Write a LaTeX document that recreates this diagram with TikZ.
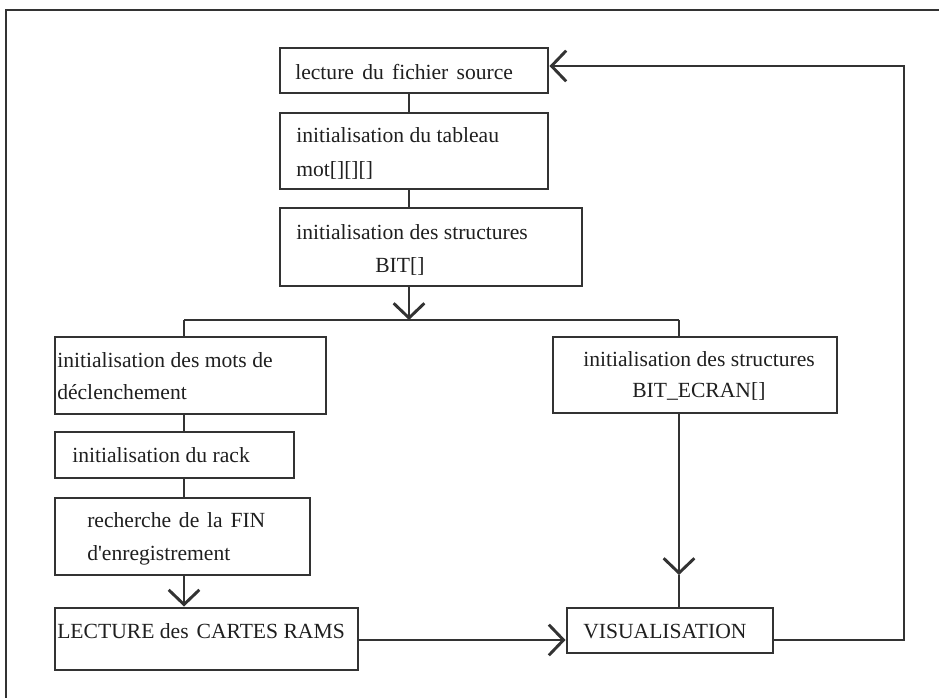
\documentclass[tikz,border=0pt]{standalone}
\usepackage{fontspec}
\setmainfont{Liberation Serif}
\usetikzlibrary{arrows.meta,fit,calc}
\definecolor{ink}{gray}{0.2}
\definecolor{textink}{gray}{0.12}
\begin{document}
\begin{tikzpicture}[x=0.75pt,y=-0.75pt,
  wire/.style={draw=ink,line width=2.2pt},
  box/.style={draw=ink,line width=2.2pt,rectangle,inner sep=0pt},
  lbl/.style={anchor=base west,inner sep=0pt,text=textink,font=\fontsize{16.2}{19}\selectfont},
  arr/.style={wire,-{Straight Barb[length=11pt,width=23pt,line width=2.2pt]}},
  line join=miter]
\useasboundingbox (0,0) rectangle (939,698);

% outer frame (top and left edges)
\draw[wire] (939,10) -- (6,10) -- (6,698);

% boxes
\node[box,fit={(280,48) (548,93)}]   (b1) {};
\node[box,fit={(280,113) (548,189)}] (b2) {};
\node[box,fit={(280,208) (582,286)}] (b3) {};
\node[box,fit={(55,337) (326,414)}]  (l1) {};
\node[box,fit={(55,432) (294,478)}]  (l2) {};
\node[box,fit={(55,498) (310,575)}]  (l3) {};
\node[box,fit={(55,608) (358,670)}]  (l4) {};
\node[box,fit={(553,337) (837,413)}] (r1) {};
\node[box,fit={(567,608) (773,653)}] (vis) {};

% texts
\node[lbl] (t1)  at (295,80)  {\spaceskip=0.38em lecture du fichier source};
\node[lbl] (t2a) at (296,143) {initialisation du tableau};
\node[lbl] (t2b) at (296,177) {mot[][][]};
\node[lbl] (t3a) at (296,240) {initialisation des structures};
\node[lbl] (t3b) at (375,273) {BIT[]};
\node[lbl] (tl1a) at (57,368) {initialisation des mots de};
\node[lbl] (tl1b) at (57,400) {déclenchement};
\node[lbl] (tl2) at (72,463)  {initialisation du rack};
\node[lbl] (tl3a) at (87,527) {\spaceskip=0.36em recherche de la FIN};
\node[lbl] (tl3b) at (87,560) {d\textquotesingle enregistrement};
\node[lbl] (tl4) at (57,638)  {LECTURE des\hspace{0.12em} CARTES RAMS};
\node[lbl] (tr1a) at (583,367) {initialisation des structures};
\node[lbl] (tr1b) at (632,398) {BIT\_ECRAN[]};
\node[lbl] (tvis) at (583,638) {VISUALISATION};

% routing points
\coordinate (spine) at (409,0);
\coordinate (split) at (409,320);
\coordinate (splitL) at (184,320);
\coordinate (splitR) at (679,320);
\coordinate (rmid) at (679,575);
\coordinate (row) at (0,640);
\coordinate (ret) at (904,66);

% main column
\draw[wire] (b1.south -| spine) -- (b2.north -| spine);
\draw[wire] (b2.south -| spine) -- (b3.north -| spine);
\draw[arr] (b3.south -| spine) -- (split);
\draw[wire] (splitL) -- (splitR);

% left branch
\draw[wire] (splitL) -- (l1.north -| splitL);
\draw[wire] (l1.south -| splitL) -- (l2.north -| splitL);
\draw[wire] (l2.south -| splitL) -- (l3.north -| splitL);
\draw[arr] (l3.south -| splitL) -- (l4.north -| splitL);

% right branch
\draw[wire] (splitR) -- (r1.north -| splitR);
\draw[arr] (r1.south -| splitR) -- (rmid);
\draw[wire] (rmid) -- (vis.north -| splitR);

% bottom link and feedback loop
\draw[arr] (l4.east |- row) -- (vis.west |- row);
\draw[arr] (vis.east |- row) -- (ret |- row) -- (ret) -- (b1.east |- ret);
\end{tikzpicture}
\end{document}
